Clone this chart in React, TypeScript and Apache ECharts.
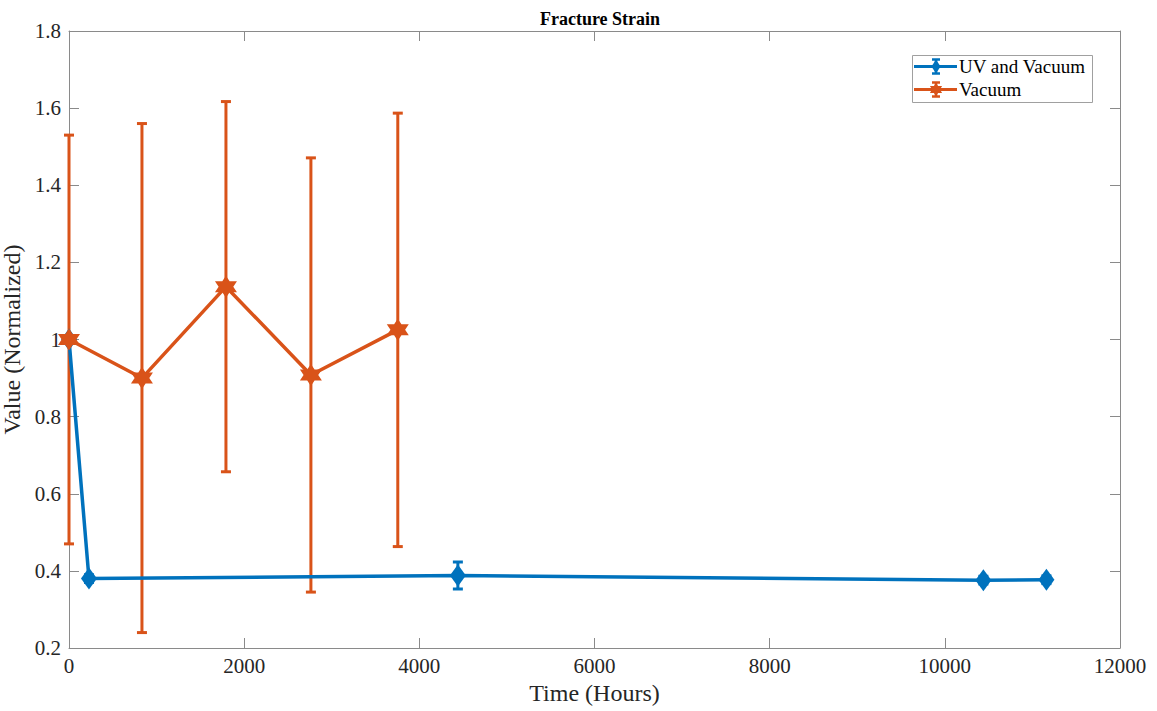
import React, { useEffect, useRef } from "react";
import * as echarts from "echarts";

const uvX = [0, 228, 4440, 10440, 11160];
const uvY = [1.0, 0.38, 0.388, 0.376, 0.377];
const uvErr = [0.005, 0.01, 0.035, 0.01, 0.01];

const vacX = [0, 833, 1792, 2762, 3754];
const vacY = [1.0, 0.9, 1.137, 0.908, 1.025];
const vacErr = [0.53, 0.66, 0.48, 0.563, 0.562];

const seriesNames = ["UV and Vacuum", "Vacuum"];

const xTicks = { min: 0, max: 12000, interval: 2000 };
const yTicks = { min: 0.2, max: 1.8, interval: 0.2 };

const BLUE = "#0072BD";
const ORANGE = "#D95319";
const FONT = "Liberation Serif";
const TEXT = "#262626";
const AXIS = "#8a8a8a";

const STAR_PTS = [
  [0, -1], [0.2887, -0.5], [0.866, -0.5], [0.577, 0], [0.866, 0.5], [0.2887, 0.5],
  [0, 1], [-0.2887, 0.5], [-0.866, 0.5], [-0.577, 0], [-0.866, -0.5], [-0.2887, -0.5],
];
const STAR = "path://M" + STAR_PTS.map((p) => p.join(",")).join("L") + "Z";

function errData(xs: number[], ys: number[], es: number[]) {
  return xs.map((x, i) => [x, ys[i] - es[i], ys[i] + es[i]]);
}

function errSeries(name: string, color: string, data: number[][]) {
  return {
    type: "custom",
    name,
    data,
    clip: false,
    renderItem: (params: any, api: any) => {
      const x = api.value(0);
      const lo = api.coord([x, api.value(1)]);
      const hi = api.coord([x, api.value(2)]);
      const hw = 5;
      const st = { stroke: color, lineWidth: 3 };
      return {
        type: "group",
        children: [
          { type: "line", shape: { x1: hi[0], y1: hi[1], x2: lo[0], y2: lo[1] }, style: st },
          { type: "line", shape: { x1: hi[0] - hw, y1: hi[1], x2: hi[0] + hw, y2: hi[1] }, style: st },
          { type: "line", shape: { x1: lo[0] - hw, y1: lo[1], x2: lo[0] + hw, y2: lo[1] }, style: st },
        ],
      };
    },
  };
}

function legendRow(name: string, color: string, y: number, marker: "diamond" | "star") {
  const x0 = 914, x1 = 957, cx = 936;
  const st = { stroke: color, lineWidth: 2.5 };
  const markerShape =
    marker === "diamond"
      ? { type: "polygon", shape: { points: [[cx, y - 7], [cx + 4.5, y], [cx, y + 7], [cx - 4.5, y]] }, style: { fill: color } }
      : { type: "polygon", shape: { points: STAR_PTS.map((p) => [cx + p[0] * 7, y + p[1] * 7]) }, style: { fill: color } };
  return [
    { type: "line", shape: { x1: x0, y1: y, x2: x1, y2: y }, style: { stroke: color, lineWidth: 3 } },
    { type: "line", shape: { x1: cx, y1: y - 7, x2: cx, y2: y + 7 }, style: st },
    { type: "line", shape: { x1: cx - 4, y1: y - 7, x2: cx + 4, y2: y - 7 }, style: st },
    { type: "line", shape: { x1: cx - 4, y1: y + 7, x2: cx + 4, y2: y + 7 }, style: st },
    markerShape,
    {
      type: "text",
      x: 959,
      y: y,
      style: {
        text: name,
        font: "normal 19px 'Liberation Serif'",
        fontFamily: FONT,
        fontSize: 19,
        fill: "#000",
        verticalAlign: "middle",
      },
    },
  ];
}

export default function App() {
  const ref = useRef<HTMLDivElement>(null);
  useEffect(() => {
    if (!ref.current) return;
    const chart = echarts.init(ref.current, undefined, { renderer: "svg" });
    const fmtY = (v: number) => String(+Number(v).toFixed(1));
    const fmtX = (v: number) => String(Math.round(v));
    chart.setOption({
      animation: false,
      backgroundColor: "#ffffff",
      textStyle: { fontFamily: FONT },
      title: {
        text: "Fracture Strain",
        left: 595,
        textAlign: "center",
        top: 5,
        textStyle: { fontFamily: FONT, fontSize: 18, fontWeight: "bold", color: "#000" },
      },
      graphic: [
        {
          type: "group",
          z: 100,
          children: [
            {
              type: "rect",
              shape: { x: 912.5, y: 55.5, width: 180, height: 47 },
              style: { fill: "#fff", stroke: "#a0a0a0", lineWidth: 1 },
            },
            ...legendRow(seriesNames[0], BLUE, 66.5, "diamond"),
            ...legendRow(seriesNames[1], ORANGE, 89.5, "star"),
          ],
        },
      ],
      grid: { left: 69, right: 37, top: 31, bottom: 63, outerBoundsMode: "none", containLabel: false },
      xAxis: [
        {
          type: "value",
          ...xTicks,
          name: "Time (Hours)",
          nameLocation: "middle",
          nameGap: 29,
          nameTextStyle: { fontFamily: FONT, fontSize: 24, color: TEXT },
          axisLine: { show: true, lineStyle: { color: AXIS, width: 1 } },
          axisTick: { show: true, inside: true, length: 10, lineStyle: { color: AXIS } },
          axisLabel: { fontFamily: FONT, fontSize: 21, color: TEXT, margin: 7, formatter: fmtX },
          splitLine: { show: false },
        },
        {
          type: "value",
          position: "top",
          ...xTicks,
          axisLine: { show: true, onZero: false, lineStyle: { color: AXIS, width: 1 } },
          axisTick: { show: true, inside: true, length: 10, lineStyle: { color: AXIS } },
          axisLabel: { show: false },
          splitLine: { show: false },
        },
      ],
      yAxis: [
        {
          type: "value",
          ...yTicks,
          name: "Value (Normalized)",
          nameLocation: "middle",
          nameGap: 31,
          nameTextStyle: { fontFamily: FONT, fontSize: 24, color: TEXT },
          axisLine: { show: true, lineStyle: { color: AXIS, width: 1 } },
          axisTick: { show: true, inside: true, length: 10, lineStyle: { color: AXIS } },
          axisLabel: { fontFamily: FONT, fontSize: 21, color: TEXT, margin: 8, formatter: fmtY },
          splitLine: { show: false },
        },
        {
          type: "value",
          position: "right",
          ...yTicks,
          axisLine: { show: true, onZero: false, lineStyle: { color: AXIS, width: 1 } },
          axisTick: { show: true, inside: true, length: 10, lineStyle: { color: AXIS } },
          axisLabel: { show: false },
          splitLine: { show: false },
        },
      ],
      series: [
        errSeries("uvErr", BLUE, errData(uvX, uvY, uvErr)),
        {
          type: "line",
          name: seriesNames[0],
          data: uvX.map((x, i) => [x, uvY[i]]),
          color: BLUE,
          lineStyle: { color: BLUE, width: 3.5 },
          itemStyle: { color: BLUE },
          symbol: "diamond",
          symbolSize: [16, 22],
          showSymbol: true,
          clip: false,
        },
        errSeries("vacErr", ORANGE, errData(vacX, vacY, vacErr)),
        {
          type: "line",
          name: seriesNames[1],
          data: vacX.map((x, i) => [x, vacY[i]]),
          color: ORANGE,
          lineStyle: { color: ORANGE, width: 3.5 },
          itemStyle: { color: ORANGE },
          symbol: STAR,
          symbolSize: [22, 22],
          showSymbol: true,
          clip: false,
        },
      ],
    });
    return () => chart.dispose();
  }, []);
  return (
    <div
      ref={ref}
      style={{ position: "absolute", left: 0, top: 0, width: 1157, height: 711 }}
    />
  );
}
